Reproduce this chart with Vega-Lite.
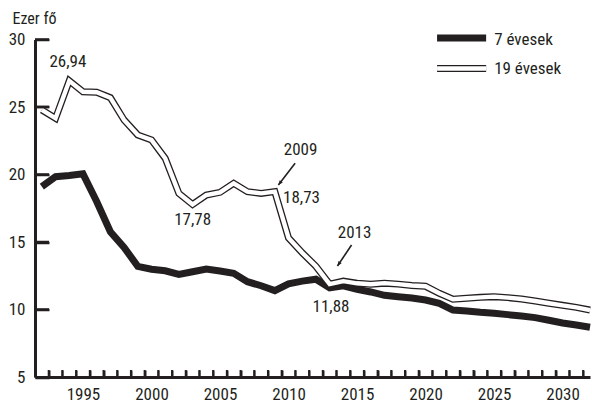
{
  "$schema": "https://vega.github.io/schema/vega-lite/v6.json",
  "width": 555,
  "height": 337.5,
  "autosize": {"type": "none"},
  "padding": {"left": 35, "top": 39.5, "right": 2, "bottom": 31},
  "background": "white",
  "config": {
    "view": {"stroke": null},
    "font": "'Liberation Sans Narrow', 'Roboto Condensed', 'DejaVu Sans Condensed', sans-serif",
    "text": {"fontSize": 17, "color": "#231f20"},
    "axis": {"labelFont": "'Liberation Sans Narrow', 'Roboto Condensed', 'DejaVu Sans Condensed', sans-serif", "titleFont": "'Liberation Sans Narrow', 'Roboto Condensed', 'DejaVu Sans Condensed', sans-serif"}
  },
  "resolve": {"axis": {"x": "independent", "y": "independent"}},
  "datasets": {
    "seven": [
      {"year": 1992, "value": 19.1},
      {"year": 1993, "value": 19.84},
      {"year": 1994, "value": 19.92},
      {"year": 1995, "value": 20.05},
      {"year": 1996, "value": 18.0},
      {"year": 1997, "value": 15.76},
      {"year": 1998, "value": 14.6},
      {"year": 1999, "value": 13.2},
      {"year": 2000, "value": 12.98},
      {"year": 2001, "value": 12.87},
      {"year": 2002, "value": 12.6},
      {"year": 2003, "value": 12.8},
      {"year": 2004, "value": 13.0},
      {"year": 2005, "value": 12.85},
      {"year": 2006, "value": 12.68},
      {"year": 2007, "value": 12.06},
      {"year": 2008, "value": 11.76},
      {"year": 2009, "value": 11.4},
      {"year": 2010, "value": 11.9},
      {"year": 2011, "value": 12.1},
      {"year": 2012, "value": 12.24},
      {"year": 2013, "value": 11.6},
      {"year": 2014, "value": 11.76},
      {"year": 2015, "value": 11.5},
      {"year": 2016, "value": 11.3},
      {"year": 2017, "value": 11.05},
      {"year": 2018, "value": 10.95},
      {"year": 2019, "value": 10.85},
      {"year": 2020, "value": 10.7},
      {"year": 2021, "value": 10.46},
      {"year": 2022, "value": 9.96},
      {"year": 2023, "value": 9.89},
      {"year": 2024, "value": 9.79},
      {"year": 2025, "value": 9.72},
      {"year": 2026, "value": 9.62},
      {"year": 2027, "value": 9.52},
      {"year": 2028, "value": 9.4},
      {"year": 2029, "value": 9.2},
      {"year": 2030, "value": 9.0},
      {"year": 2031, "value": 8.85},
      {"year": 2032, "value": 8.68}
    ],
    "nineteen": [
      {"year": 1992, "value": 24.78},
      {"year": 1993, "value": 24.16},
      {"year": 1994, "value": 26.94},
      {"year": 1995, "value": 26.13},
      {"year": 1996, "value": 26.09},
      {"year": 1997, "value": 25.69},
      {"year": 1998, "value": 24.04},
      {"year": 1999, "value": 22.93},
      {"year": 2000, "value": 22.56},
      {"year": 2001, "value": 21.2},
      {"year": 2002, "value": 18.6},
      {"year": 2003, "value": 17.78},
      {"year": 2004, "value": 18.48},
      {"year": 2005, "value": 18.68},
      {"year": 2006, "value": 19.35},
      {"year": 2007, "value": 18.73},
      {"year": 2008, "value": 18.6},
      {"year": 2009, "value": 18.73},
      {"year": 2010, "value": 15.3},
      {"year": 2011, "value": 14.2},
      {"year": 2012, "value": 13.2},
      {"year": 2013, "value": 11.88},
      {"year": 2014, "value": 12.1},
      {"year": 2015, "value": 11.94},
      {"year": 2016, "value": 11.87},
      {"year": 2017, "value": 11.95},
      {"year": 2018, "value": 11.88},
      {"year": 2019, "value": 11.78},
      {"year": 2020, "value": 11.72},
      {"year": 2021, "value": 11.2},
      {"year": 2022, "value": 10.76},
      {"year": 2023, "value": 10.83},
      {"year": 2024, "value": 10.9},
      {"year": 2025, "value": 10.95},
      {"year": 2026, "value": 10.88},
      {"year": 2027, "value": 10.78},
      {"year": 2028, "value": 10.63},
      {"year": 2029, "value": 10.46},
      {"year": 2030, "value": 10.31},
      {"year": 2031, "value": 10.16},
      {"year": 2032, "value": 9.96}
    ],
    "xtickrows": [
      {"year": 1991.5}, {"year": 1992.5}, {"year": 1993.5}, {"year": 1994.5}, {"year": 1995.5},
      {"year": 1996.5}, {"year": 1997.5}, {"year": 1998.5}, {"year": 1999.5}, {"year": 2000.5},
      {"year": 2001.5}, {"year": 2002.5}, {"year": 2003.5}, {"year": 2004.5}, {"year": 2005.5},
      {"year": 2006.5}, {"year": 2007.5}, {"year": 2008.5}, {"year": 2009.5}, {"year": 2010.5},
      {"year": 2011.5}, {"year": 2012.5}, {"year": 2013.5}, {"year": 2014.5}, {"year": 2015.5},
      {"year": 2016.5}, {"year": 2017.5}, {"year": 2018.5}, {"year": 2019.5}, {"year": 2020.5},
      {"year": 2021.5}, {"year": 2022.5}, {"year": 2023.5}, {"year": 2024.5}, {"year": 2025.5},
      {"year": 2026.5}, {"year": 2027.5}, {"year": 2028.5}, {"year": 2029.5}, {"year": 2030.5},
      {"year": 2031.5}
    ],
    "ytickrows": [
      {"value": 10}, {"value": 15}, {"value": 20}, {"value": 25}, {"value": 30}
    ],
    "ann": [
      {"x": 1993.9, "y": 28.37, "text": "26,94"},
      {"x": 2003.0, "y": 16.63, "text": "17,78"},
      {"x": 2010.95, "y": 18.24, "text": "18,73"},
      {"x": 2010.88, "y": 21.81, "text": "2009"},
      {"x": 2014.82, "y": 15.63, "text": "2013"},
      {"x": 2013.1, "y": 10.2, "text": "11,88"}
    ],
    "arr": [
      {"x": 2010.48, "y": 20.83, "x2": 2009.26, "y2": 19.22, "angle": 218},
      {"x": 2014.6, "y": 14.78, "x2": 2013.57, "y2": 13.22, "angle": 214}
    ],
    "leg": [
      {"series": "7 évesek", "kind": "solid", "x": 2020.84, "x2": 2024.42, "y": 30.11, "ty": 29.98},
      {"series": "19 évesek", "kind": "double", "x": 2020.84, "x2": 2024.42, "y": 27.85, "ty": 27.78}
    ],
    "leginner": [
      {"series": "19 évesek", "x": 2020.84, "x2": 2024.42, "y": 27.85}
    ]
  },
  "layer": [
    {
      "data": {"name": "seven"},
      "mark": {"type": "line", "stroke": "#231f20", "strokeWidth": 7, "clip": false},
      "encoding": {
        "x": {
          "field": "year", "type": "quantitative",
          "scale": {"domain": [1991.5, 2032], "nice": false, "zero": false},
          "axis": {
            "orient": "bottom",
            "title": null,
            "values": [1995, 2000, 2005, 2010, 2015, 2020, 2025, 2030],
            "format": "d",
            "tickSize": 0,
            "tickColor": "#231f20",
            "domainColor": "#231f20",
            "domainWidth": 3,
            "labelPadding": 9,
            "labelFontSize": 17,
            "labelColor": "#231f20",
            "grid": false
          }
        },
        "y": {
          "field": "value", "type": "quantitative",
          "scale": {"domain": [5, 30], "nice": false, "zero": false},
          "axis": {
            "orient": "left",
            "title": "Ezer fő",
            "titleAngle": 0,
            "titleAlign": "left",
            "titleBaseline": "alphabetic",
            "titleX": -23,
            "titleY": -16.5,
            "titleFontSize": 16,
            "titleFontWeight": "normal",
            "titleColor": "#231f20",
            "values": [5, 10, 15, 20, 25, 30],
            "tickSize": -14,
            "tickColor": "#231f20",
            "tickWidth": 2.5,
            "domainColor": "#231f20",
            "domainWidth": 3,
            "labelPadding": 24,
            "labelFontSize": 17,
            "labelColor": "#231f20",
            "grid": false
          }
        }
      }
    },
    {
      "data": {"name": "nineteen"},
      "mark": {"type": "line", "stroke": "#231f20", "strokeWidth": 7, "clip": false},
      "encoding": {
        "x": {
          "field": "year", "type": "quantitative",
          "axis": {
            "orient": "top",
            "offset": -337.5,
            "title": null,
            "values": [1991.5,1992.5,1993.5,1994.5,1995.5,1996.5,1997.5,1998.5,1999.5,2000.5,2001.5,2002.5,2003.5,2004.5,2005.5,2006.5,2007.5,2008.5,2009.5,2010.5,2011.5,2012.5,2013.5,2014.5,2015.5,2016.5,2017.5,2018.5,2019.5,2020.5,2021.5,2022.5,2023.5,2024.5,2025.5,2026.5,2027.5,2028.5,2029.5,2030.5,2031.5],
            "labels": false,
            "domain": false,
            "tickSize": 7,
            "tickWidth": 2,
            "tickColor": "#231f20",
            "grid": false
          }
        },
        "y": {"field": "value", "type": "quantitative", "axis": null}
      }
    },
    {
      "data": {"name": "nineteen"},
      "mark": {"type": "line", "stroke": "white", "strokeWidth": 4.4, "clip": false},
      "encoding": {
        "x": {"field": "year", "type": "quantitative", "axis": null},
        "y": {"field": "value", "type": "quantitative", "axis": null}
      }
    },
    {
      "data": {"name": "ann"},
      "mark": {"type": "text", "align": "center", "baseline": "middle", "fontSize": 17, "color": "#231f20"},
      "encoding": {
        "x": {"field": "x", "type": "quantitative", "axis": null},
        "y": {"field": "y", "type": "quantitative", "axis": null},
        "text": {"field": "text"}
      }
    },
    {
      "data": {"name": "arr"},
      "mark": {"type": "rule", "stroke": "#231f20", "strokeWidth": 1.6},
      "encoding": {
        "x": {"field": "x", "type": "quantitative", "axis": null},
        "y": {"field": "y", "type": "quantitative", "axis": null},
        "x2": {"field": "x2"},
        "y2": {"field": "y2"}
      }
    },
    {
      "data": {"name": "arr"},
      "mark": {"type": "point", "shape": "M0,0L-0.5,1.2L0.5,1.2Z", "filled": true, "color": "#231f20", "size": 60, "opacity": 1},
      "encoding": {
        "x": {"field": "x2", "type": "quantitative", "axis": null},
        "y": {"field": "y2", "type": "quantitative", "axis": null},
        "angle": {"field": "angle", "type": "quantitative", "scale": null}
      }
    },
    {
      "data": {"name": "leg"},
      "mark": {"type": "rule", "stroke": "#231f20", "strokeWidth": 7, "strokeCap": "butt"},
      "encoding": {
        "x": {"field": "x", "type": "quantitative", "axis": null},
        "x2": {"field": "x2"},
        "y": {"field": "y", "type": "quantitative", "axis": null}
      }
    },
    {
      "data": {"name": "leginner"},
      "mark": {"type": "rule", "stroke": "white", "strokeWidth": 4.4, "strokeCap": "butt"},
      "encoding": {
        "x": {"field": "x", "type": "quantitative", "axis": null},
        "x2": {"field": "x2"},
        "y": {"field": "y", "type": "quantitative", "axis": null}
      }
    },
    {
      "data": {"name": "leg"},
      "mark": {"type": "text", "align": "left", "baseline": "middle", "dx": 8, "fontSize": 17, "color": "#231f20"},
      "encoding": {
        "x": {"field": "x2", "type": "quantitative", "axis": null},
        "y": {"field": "ty", "type": "quantitative", "axis": null},
        "text": {"field": "series"}
      }
    },
    {
      "data": {"name": "xtickrows"},
      "mark": {"type": "rule", "stroke": "#231f20", "strokeWidth": 2, "clip": false},
      "encoding": {
        "x": {"field": "year", "type": "quantitative", "axis": null},
        "y": {"datum": 5, "type": "quantitative", "axis": null},
        "y2": {"datum": 5.52}
      }
    },
    {
      "data": {"name": "ytickrows"},
      "mark": {"type": "rule", "stroke": "#231f20", "strokeWidth": 2.5, "clip": false},
      "encoding": {
        "y": {"field": "value", "type": "quantitative", "axis": null},
        "x": {"datum": 1991.5, "type": "quantitative", "axis": null},
        "x2": {"datum": 1992.52}
      }
    }
  ]
}
